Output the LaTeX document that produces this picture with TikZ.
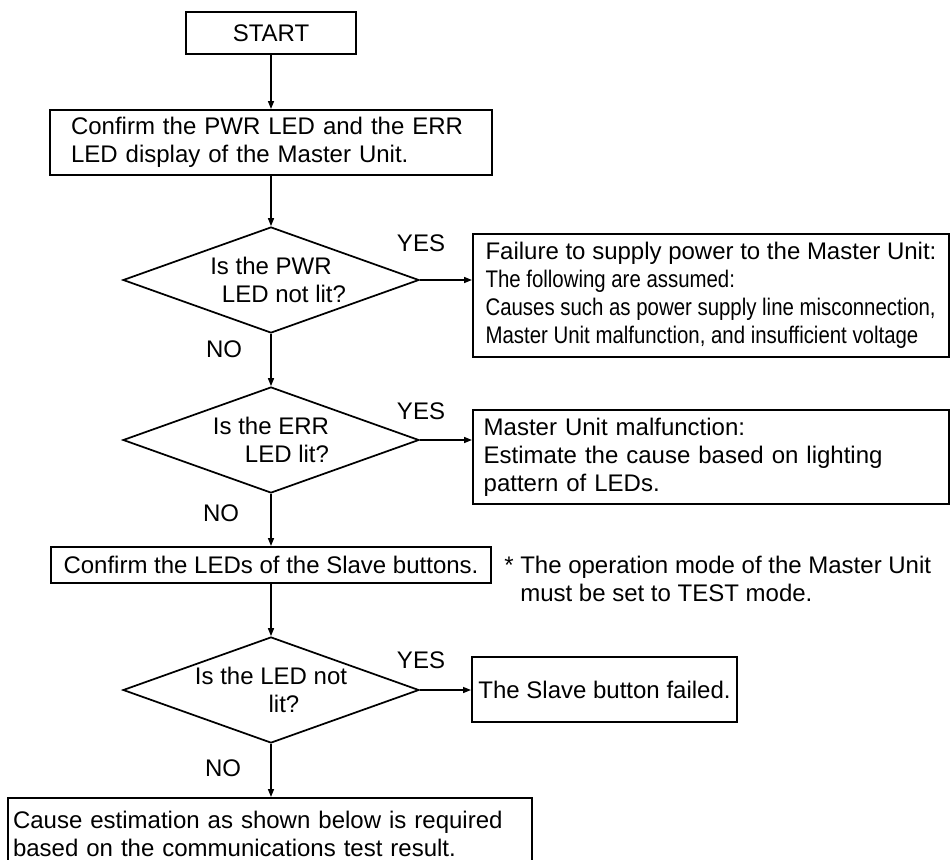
\documentclass[tikz,border=0pt]{standalone}
\usepackage{fontspec}
\setmainfont{Liberation Sans}
\newfontfamily\narrowfont[FakeStretch=0.85]{Liberation Sans}
\usepackage{tikz}
\usetikzlibrary{arrows.meta, positioning, calc, shapes.geometric}

\begin{document}
\begin{tikzpicture}[
    x=0.75pt, y=-0.75pt,
    font=\fontsize{18pt}{21pt}\selectfont,
    block/.style={rectangle, draw, line width=1.5pt, inner sep=0pt},
    textblock/.style={block, align=left, inner xsep=8pt, text width=#1},
    decision/.style={diamond, draw, line width=1.3pt, inner sep=0pt, aspect=2.8, minimum width=222pt, minimum height=79.5pt, align=center},
    answer/.style={inner sep=0pt},
    line/.style={draw, -{Triangle[length=6pt, width=4.5pt]}, line width=1.1pt}
]
    \useasboundingbox (0,0) rectangle (950,860);
    \clip (0,0) rectangle (950,860);

    \node [block, minimum width=128pt, minimum height=31.5pt] (start) at (271,33) {START};
    \node [textblock=300pt, inner xsep=15.75pt, minimum height=48.75pt] (chk) at (271,142.5) {Confirm the PWR LED and the ERR\\LED display of the Master Unit.};

    \node [decision] (pwr) at (271,280) {Is the PWR\\\hspace*{19.5pt}LED not lit?};
    \node [block, align=left, anchor=north west, minimum width=357pt, minimum height=92.25pt] (nopwr) at (472,233) {Failure to supply power to the Master Unit:\\\narrowfont The following are assumed:\\\narrowfont Causes such as power supply line misconnection,\\\narrowfont Master Unit malfunction, and insufficient voltage};

    \node [decision] (err) at (271,440) {Is the ERR\\\hspace*{24pt}LED lit?};
    \node [textblock=341pt, anchor=north west, minimum height=70.5pt] (errbox) at (472,409) {Master Unit malfunction:\\Estimate the cause based on lighting\\pattern of LEDs.};

    \node [block, minimum width=330pt, minimum height=27pt] (slv) at (271,565) {Confirm the LEDs of the Slave buttons.};
    \node [answer, anchor=north west, align=left] (note) at (504,556) {* The operation mode of the Master Unit\\\hspace*{12pt}must be set to TEST mode.};

    \node [decision] (lit) at (271,690) {Is the LED not\\\hspace*{19.5pt}lit?};
    \node [block, minimum width=198.75pt, minimum height=48.75pt] (sfail) at (604.5,689.5) {The Slave button failed.};

    \node [textblock=385.5pt, inner xsep=3.75pt, anchor=north west, minimum height=54pt] (est) at (7,797) {Cause estimation as shown below is required\\based on the communications test result.};

    \node [answer] (yes1) at (421,243) {YES};
    \node [answer] (no1) at (224,349) {NO};
    \node [answer] (yes2) at (421,411) {YES};
    \node [answer] (no2) at (221,513) {NO};
    \node [answer] (yes3) at (421,660) {YES};
    \node [answer] (no3) at (223,768) {NO};

    \draw [line] (start.south) -- (chk.north);
    \draw [line] (chk.south) -- (pwr.north);
    \draw [line] (pwr.east) -- (pwr.east -| nopwr.west);
    \draw [line] (pwr.south) -- (err.north);
    \draw [line] (err.east) -- (err.east -| errbox.west);
    \draw [line] (err.south) -- (slv.north);
    \draw [line] (slv.south) -- (lit.north);
    \draw [line] (lit.east) -- (lit.east -| sfail.west);
    \draw [line] (lit.south) -- (lit.south |- est.north);

\end{tikzpicture}
\end{document}
